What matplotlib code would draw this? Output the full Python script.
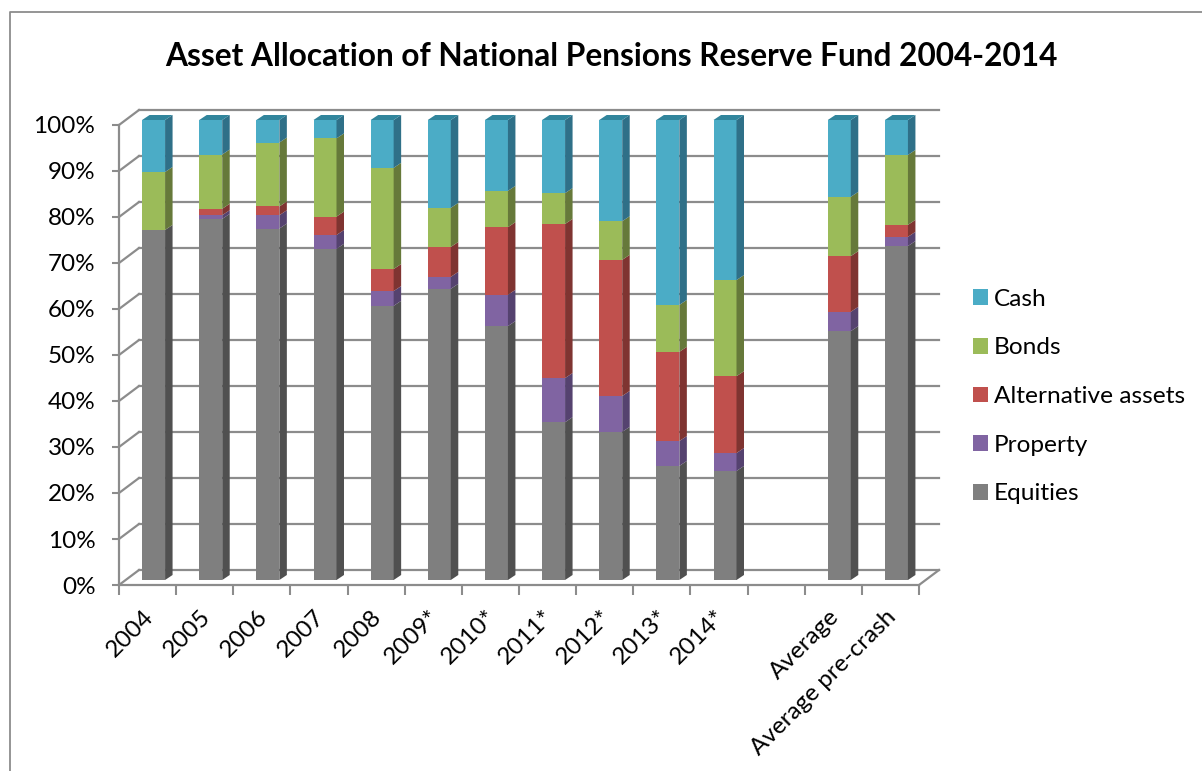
import matplotlib
matplotlib.use('Agg')
import matplotlib.pyplot as plt
from matplotlib.patches import Patch
import numpy as np

plt.rcParams['font.family'] = ['Lato', 'DejaVu Sans']

categories = ['2004', '2005', '2006', '2007', '2008', '2009*', '2010*', '2011*',
              '2012*', '2013*', '2014*', '', 'Average', 'Average pre-crash']
equities = [76.1, 78.5, 76.4, 72.0, 59.6, 63.3, 55.2, 34.3, 32.2, 24.8, 23.7, 0, 54.1, 72.6]
prop = [0, 0.8, 2.9, 3.0, 3.2, 2.6, 6.8, 9.6, 7.8, 5.4, 3.9, 0, 4.2, 2.0]
alternative = [0, 1.4, 1.9, 4.0, 4.8, 6.5, 14.7, 33.5, 29.6, 19.4, 16.7, 0, 12.1, 2.6]
bonds = [12.6, 11.8, 13.9, 17.0, 22.0, 8.5, 7.9, 6.7, 8.4, 10.2, 20.9, 0, 12.9, 15.2]
cash = [11.3, 7.5, 4.9, 4.0, 10.4, 19.1, 15.4, 15.9, 22.0, 40.2, 34.8, 0, 16.7, 7.6]

series = [equities, prop, alternative, bonds, cash]
names = ['Equities', 'Property', 'Alternative assets', 'Bonds', 'Cash']
front_cols = ['#7F7F7F', '#8064A2', '#C0504D', '#9BBB59', '#4BACC6']
side_cols = ['#505050', '#55426F', '#7F3431', '#66793A', '#2F7088']
top_col = '#31859C'
grid_col = '#8C8C8C'

W, H = 1202, 771
fig = plt.figure(figsize=(W / 100, H / 100), dpi=100)
# front plane of the 3d box: x 119..919, y 585..125 in pixels
ax = fig.add_axes([119 / W, 1 - 585 / H, 800 / W, 460 / H])
ax.set_xlim(-0.5, 13.5)
ax.set_ylim(0, 100)
ax.patch.set_alpha(0)

px_x = 14 / 800
px_y = 100 / 460
wall_dx, wall_dy = 20 * px_x, 15 * px_y
bar_dx, bar_dy = 6 * px_x, 5 * px_y
side_dx, side_dy = 7.5 * px_x, 5 * px_y
bar_w = 23 * px_x

# gridlines on back and left wall
for v in range(0, 101, 10):
    ax.plot([-0.5 + wall_dx, 13.5 + wall_dx], [v + wall_dy, v + wall_dy], color=grid_col,
            lw=1.6, clip_on=False, zorder=1)
    ax.plot([-0.5, -0.5 + wall_dx], [v, v + wall_dy], color=grid_col, lw=1.6, clip_on=False, zorder=1)
ax.plot([13.5, 13.5 + wall_dx], [0, wall_dy], color=grid_col, lw=1.6, clip_on=False, zorder=1)

x = np.arange(len(categories)) + bar_dx
bottom = np.zeros(len(categories)) + bar_dy
for vals, col, side in zip(series, front_cols, side_cols):
    vals = np.array(vals)
    ax.bar(x, vals, bar_w, bottom=bottom, color=col, zorder=3, clip_on=False, linewidth=0)
    for xi, b, v in zip(x, bottom, vals):
        if v > 0:
            r = xi + bar_w / 2
            ax.fill([r, r + side_dx, r + side_dx, r],
                    [b, b + side_dy, b + v + side_dy, b + v],
                    color=side, lw=0, zorder=3, clip_on=False)
    bottom = bottom + vals

for xi, b, total in zip(x, bottom, np.sum(series, axis=0)):
    if total > 0:
        l, r = xi - bar_w / 2, xi + bar_w / 2
        ax.fill([l, r, r + side_dx, l + side_dx], [b, b, b + side_dy, b + side_dy],
                color=top_col, lw=0, zorder=3, clip_on=False)

for s in ['top', 'right']:
    ax.spines[s].set_visible(False)
for s in ['left', 'bottom']:
    ax.spines[s].set_color(grid_col)
    ax.spines[s].set_linewidth(1.6)

ax.set_yticks(range(0, 101, 10))
ax.set_yticklabels([str(v) + '%' for v in range(0, 101, 10)], fontsize=17.5, color='black')
ax.tick_params(axis='y', length=5, width=1.5, color=grid_col, pad=12)
ax.set_xticks(np.arange(-0.5, 14, 1))
ax.set_xticklabels([])
ax.tick_params(axis='x', which='major', length=7, width=1.5, color=grid_col)
ax.set_xticks(np.arange(14) - 5 * px_x, minor=True)
ax.set_xticklabels(categories, minor=True, rotation=45, ha='right', rotation_mode='anchor', fontsize=17.5)
ax.tick_params(axis='x', which='minor', length=0, pad=15)

handles = [Patch(facecolor=c, label=n) for c, n in zip(front_cols[::-1], names[::-1])]
fig.legend(handles=handles, loc='upper left', bbox_to_anchor=(965.5 / W, 1 - 281.5 / H), frameon=False,
           fontsize=17.6, handlelength=0.61, handleheight=0.61, handletextpad=0.26, labelspacing=1.13,
           borderpad=0.3, borderaxespad=0)

fig.text(611 / W, 1 - 56 / H, 'Asset Allocation of National Pensions Reserve Fund 2004-2014',
         ha='center', va='center', fontsize=22.75, fontweight='bold')

# chart frame
fig.add_artist(plt.Line2D([10 / W, 10 / W, 1], [0, 1 - 12 / H, 1 - 12 / H], color=grid_col, lw=1.3))

fig.savefig('out.png', dpi=100)
